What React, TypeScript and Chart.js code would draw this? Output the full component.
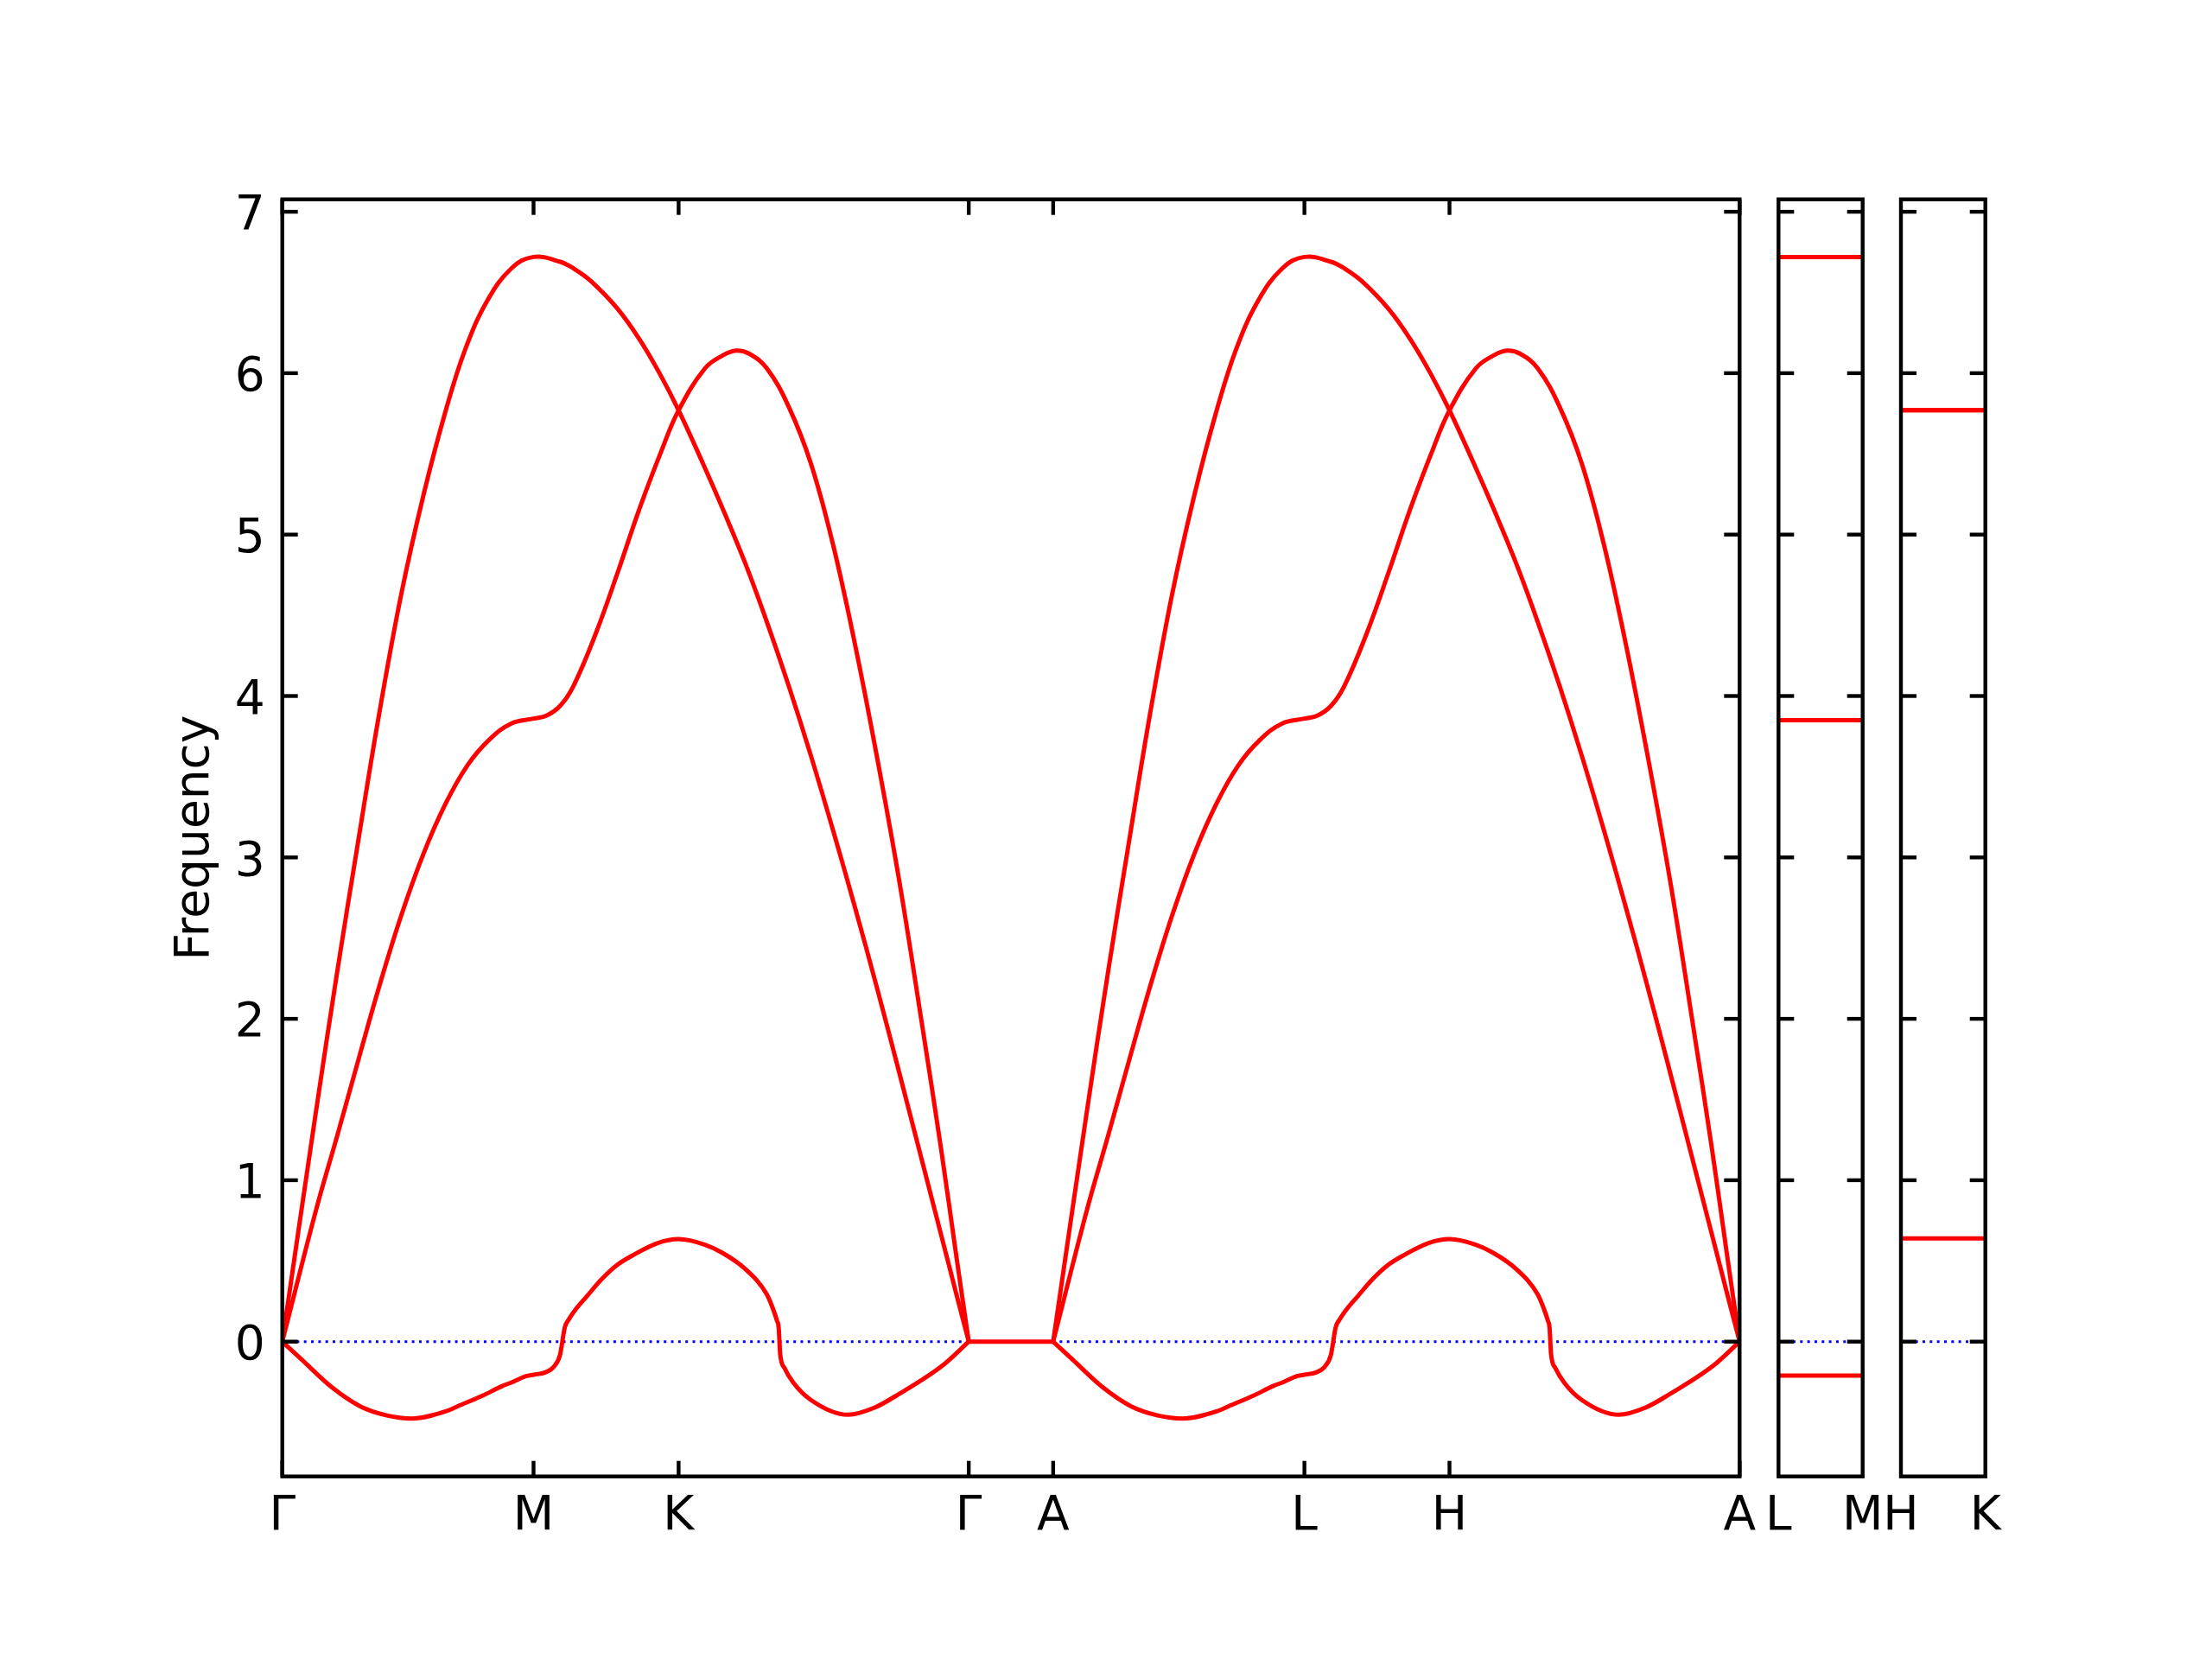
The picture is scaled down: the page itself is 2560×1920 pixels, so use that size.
import React, { useEffect, useRef } from 'react';
import { Chart, registerables } from 'chart.js';

Chart.register(...registerables);

// ---------------- data ----------------
const MAIN_TICK_LABELS = ['Γ', 'M', 'K', 'Γ', 'A', 'L', 'H', 'A'];
const MAIN_TICK_POS = [0, 0.866, 1.366, 2.366, 2.657, 3.523, 4.023, 5.023];
const HALF_OFFSETS = [0, 2.657]; // Γ-M-K-Γ path and A-L-H-A path (same dispersion)
const GAMMA_A_X = [2.366, 2.657];
const GAMMA_A_Y = [0, 0];

const Y_MIN = -0.835;
const Y_MAX = 7.077;
const Y_TICKS = [0, 1, 2, 3, 4, 5, 6, 7];

// band 1 (rises to M maximum, crosses at K, falls to Γ)
const BAND1_X = [0, 0.114, 0.19, 0.258, 0.334, 0.41, 0.486, 0.562, 0.631, 0.707, 0.79, 0.866, 0.958, 1.003, 1.064, 1.155, 1.231, 1.3, 1.366, 1.45, 1.518, 1.594, 1.67, 1.746, 1.822, 1.898, 1.974, 2.05, 2.126, 2.195, 2.271, 2.324, 2.366];
const BAND1_Y = [0, 1.4, 2.3, 3.06, 3.89, 4.63, 5.24, 5.76, 6.15, 6.45, 6.65, 6.72, 6.69, 6.65, 6.57, 6.4, 6.21, 6.0, 5.77, 5.44, 5.16, 4.83, 4.46, 4.06, 3.63, 3.17, 2.69, 2.19, 1.67, 1.19, 0.66, 0.29, 0];

// band 2 (shoulder at M, peak between K and Γ)
const BAND2_X = [0, 0.114, 0.19, 0.266, 0.334, 0.41, 0.486, 0.562, 0.638, 0.714, 0.79, 0.866, 0.912, 0.958, 1.003, 1.079, 1.155, 1.231, 1.307, 1.366, 1.457, 1.518, 1.564, 1.61, 1.67, 1.746, 1.822, 1.898, 1.974, 2.05, 2.126, 2.202, 2.271, 2.324, 2.366];
const BAND2_Y = [0, 0.8, 1.28, 1.77, 2.2, 2.64, 3.02, 3.33, 3.57, 3.73, 3.83, 3.86, 3.88, 3.94, 4.06, 4.38, 4.76, 5.16, 5.52, 5.77, 6.03, 6.11, 6.14, 6.12, 6.03, 5.79, 5.44, 4.94, 4.32, 3.62, 2.86, 2.0, 1.19, 0.52, 0];

// band 3 (soft mode, partly imaginary -> negative)
const BAND3_X = [0, 0.069, 0.169, 0.268, 0.36, 0.447, 0.566, 0.605, 0.69, 0.758, 0.79, 0.84, 0.866, 0.906, 0.936, 0.957, 0.974, 0.988, 1.016, 1.05, 1.102, 1.155, 1.213, 1.292, 1.366, 1.457, 1.517, 1.594, 1.67, 1.69, 1.705, 1.711, 1.716, 1.731, 1.761, 1.821, 1.95, 2.04, 2.125, 2.277, 2.366];
const BAND3_Y = [0, -0.115, -0.28, -0.4, -0.457, -0.476, -0.43, -0.4, -0.335, -0.275, -0.253, -0.214, -0.205, -0.191, -0.155, -0.084, 0.09, 0.139, 0.211, 0.282, 0.389, 0.476, 0.54, 0.61, 0.635, 0.6, 0.55, 0.453, 0.293, 0.21, 0.13, 0.086, -0.075, -0.164, -0.253, -0.36, -0.453, -0.41, -0.325, -0.146, 0];

const LM_LABELS = ['L', 'M'];
const LM_BANDS = [6.72, 3.85, -0.21];
const HK_LABELS = ['H', 'K'];
const HK_BANDS = [5.77, 5.77, 0.64];

// ---------------- style / layout ----------------
const W = 2560;
const H = 1920;
const FONT = 'DejaVu Sans';
const FONT_SIZE = 55;
const RED = '#ff0000';
const BLUE = '#0000ff';
const PLOT_TOP = 230.7;
const PLOT_BOTTOM = 1708.7;
const MAIN_LEFT = 326.7;
const MAIN_RIGHT = 2013.3;
const LM_LEFT = 2058.3;
const LM_RIGHT = 2155.7;
const HK_LEFT = 2200;
const HK_RIGHT = 2297.7;
const XAXIS_H = 120;
const TITLE_LEFT = 194;
const TICK_LEN = 18;
const FRAME_W = 4.4;

Chart.defaults.font.family = FONT;
Chart.defaults.color = '#000';

function framePlugin(xTicks: number[], yTicks: number[]) {
  return {
    id: 'frame',
    afterDraw(chart: any) {
      const { ctx, chartArea } = chart;
      const { left, right, top, bottom } = chartArea;
      const xs = chart.scales.x;
      const ys = chart.scales.y;
      ctx.save();
      ctx.strokeStyle = '#000';
      ctx.lineWidth = FRAME_W;
      ctx.lineCap = 'butt';
      const seg = (x1: number, y1: number, x2: number, y2: number) => {
        ctx.beginPath();
        ctx.moveTo(x1, y1);
        ctx.lineTo(x2, y2);
        ctx.stroke();
      };
      for (const v of yTicks) {
        const py = ys.getPixelForValue(v);
        seg(left, py, left + TICK_LEN, py);
        seg(right, py, right - TICK_LEN, py);
      }
      for (const v of xTicks) {
        const px = xs.getPixelForValue(v);
        seg(px, bottom, px, bottom - TICK_LEN);
        seg(px, top, px, top + TICK_LEN);
      }
      ctx.lineJoin = 'miter';
      ctx.strokeRect(left, top, right - left, bottom - top);
      ctx.restore();
    },
  };
}

function lineDs(points: { x: number; y: number }[], color: string, extra: any = {}) {
  return {
    data: points,
    borderColor: color,
    borderWidth: 5,
    pointRadius: 0,
    fill: false,
    tension: 0.4,
    cubicInterpolationMode: 'default',
    borderJoinStyle: 'round',
    order: 0,
    ...extra,
  };
}

function mainConfig(): any {
  const bands: [number[], number[], any][] = [
    [BAND1_X, BAND1_Y, {}],
    [BAND2_X, BAND2_Y, {}],
    [BAND3_X, BAND3_Y, { cubicInterpolationMode: 'monotone' }],
  ];
  const datasets: any[] = [];
  for (const off of HALF_OFFSETS) {
    for (const [bx, by, extra] of bands) {
      datasets.push(lineDs(bx.map((x, i) => ({ x: x + off, y: by[i] })), RED, extra));
    }
  }
  datasets.push(lineDs(GAMMA_A_X.map((x, i) => ({ x, y: GAMMA_A_Y[i] })), RED, { tension: 0 }));
  const xMax = MAIN_TICK_POS[MAIN_TICK_POS.length - 1];
  datasets.push({
    data: [{ x: 0, y: 0 }, { x: xMax, y: 0 }],
    borderColor: BLUE,
    borderWidth: 3,
    borderDash: [3, 5.33],
    pointRadius: 0,
    order: 10,
  });
  return {
    type: 'line',
    data: { datasets },
    plugins: [framePlugin(MAIN_TICK_POS, Y_TICKS)],
    options: {
      animation: false,
      responsive: false,
      devicePixelRatio: 1,
      layout: {
        padding: { left: TITLE_LEFT, top: PLOT_TOP, right: W - MAIN_RIGHT, bottom: H - PLOT_BOTTOM - XAXIS_H },
      },
      plugins: { legend: { display: false }, tooltip: { enabled: false } },
      scales: {
        x: {
          type: 'linear',
          min: 0,
          max: xMax,
          afterBuildTicks: (s: any) => {
            s.ticks = MAIN_TICK_POS.map((v) => ({ value: v }));
          },
          afterFit: (s: any) => {
            s.height = XAXIS_H;
          },
          grid: { display: false, drawTicks: false },
          border: { display: false },
          ticks: {
            autoSkip: false,
            maxRotation: 0,
            minRotation: 0,
            padding: 14,
            font: { size: FONT_SIZE, family: FONT },
            color: '#000',
            callback: (_v: any, i: number) => MAIN_TICK_LABELS[i],
          },
        },
        y: {
          type: 'linear',
          min: Y_MIN,
          max: Y_MAX,
          afterBuildTicks: (s: any) => {
            s.ticks = Y_TICKS.map((v) => ({ value: v }));
          },
          afterFit: (s: any) => {
            s.width = MAIN_LEFT - TITLE_LEFT;
          },
          grid: { display: false, drawTicks: false },
          border: { display: false },
          ticks: {
            padding: 20,
            labelOffset: 6,
            font: { size: FONT_SIZE, family: FONT },
            color: '#000',
            callback: (v: any) => String(v),
          },
          title: {
            display: true,
            text: 'Frequency',
            font: { size: FONT_SIZE, family: FONT },
            color: '#000',
            padding: 0,
          },
        },
      },
    },
  };
}

function sideConfig(left: number, right: number, labels: string[], values: number[]): any {
  const datasets: any[] = values.map((v) =>
    lineDs([{ x: 0, y: v }, { x: 1, y: v }], RED, { tension: 0 })
  );
  datasets.push({
    data: [{ x: 0, y: 0 }, { x: 1, y: 0 }],
    borderColor: BLUE,
    borderWidth: 3,
    borderDash: [3, 5.33],
    pointRadius: 0,
    order: 10,
  });
  return {
    type: 'line',
    data: { datasets },
    plugins: [framePlugin([], Y_TICKS)],
    options: {
      animation: false,
      responsive: false,
      devicePixelRatio: 1,
      layout: {
        padding: { left, top: PLOT_TOP, right: W - right, bottom: H - PLOT_BOTTOM - XAXIS_H },
      },
      plugins: { legend: { display: false }, tooltip: { enabled: false } },
      scales: {
        x: {
          type: 'linear',
          min: 0,
          max: 1,
          afterBuildTicks: (s: any) => {
            s.ticks = [{ value: 0 }, { value: 1 }];
          },
          afterFit: (s: any) => {
            s.height = XAXIS_H;
          },
          grid: { display: false, drawTicks: false },
          border: { display: false },
          ticks: {
            autoSkip: false,
            maxRotation: 0,
            minRotation: 0,
            padding: 14,
            font: { size: FONT_SIZE, family: FONT },
            color: '#000',
            callback: (_v: any, i: number) => labels[i],
          },
        },
        y: {
          type: 'linear',
          display: false,
          min: Y_MIN,
          max: Y_MAX,
        },
      },
    },
  };
}

export default function App() {
  const mainRef = useRef<HTMLCanvasElement>(null);
  const lmRef = useRef<HTMLCanvasElement>(null);
  const hkRef = useRef<HTMLCanvasElement>(null);

  useEffect(() => {
    const charts: Chart[] = [];
    if (mainRef.current) charts.push(new Chart(mainRef.current, mainConfig()));
    if (lmRef.current) charts.push(new Chart(lmRef.current, sideConfig(LM_LEFT, LM_RIGHT, LM_LABELS, LM_BANDS)));
    if (hkRef.current) charts.push(new Chart(hkRef.current, sideConfig(HK_LEFT, HK_RIGHT, HK_LABELS, HK_BANDS)));
    return () => charts.forEach((c) => c.destroy());
  }, []);

  const cs: React.CSSProperties = { position: 'absolute', left: 0, top: 0, width: W, height: H };
  return (
    <div style={{ position: 'absolute', left: 0, top: 0, width: W, height: H, background: '#fff' }}>
      <canvas ref={mainRef} width={W} height={H} style={cs} />
      <canvas ref={lmRef} width={W} height={H} style={cs} />
      <canvas ref={hkRef} width={W} height={H} style={cs} />
    </div>
  );
}
